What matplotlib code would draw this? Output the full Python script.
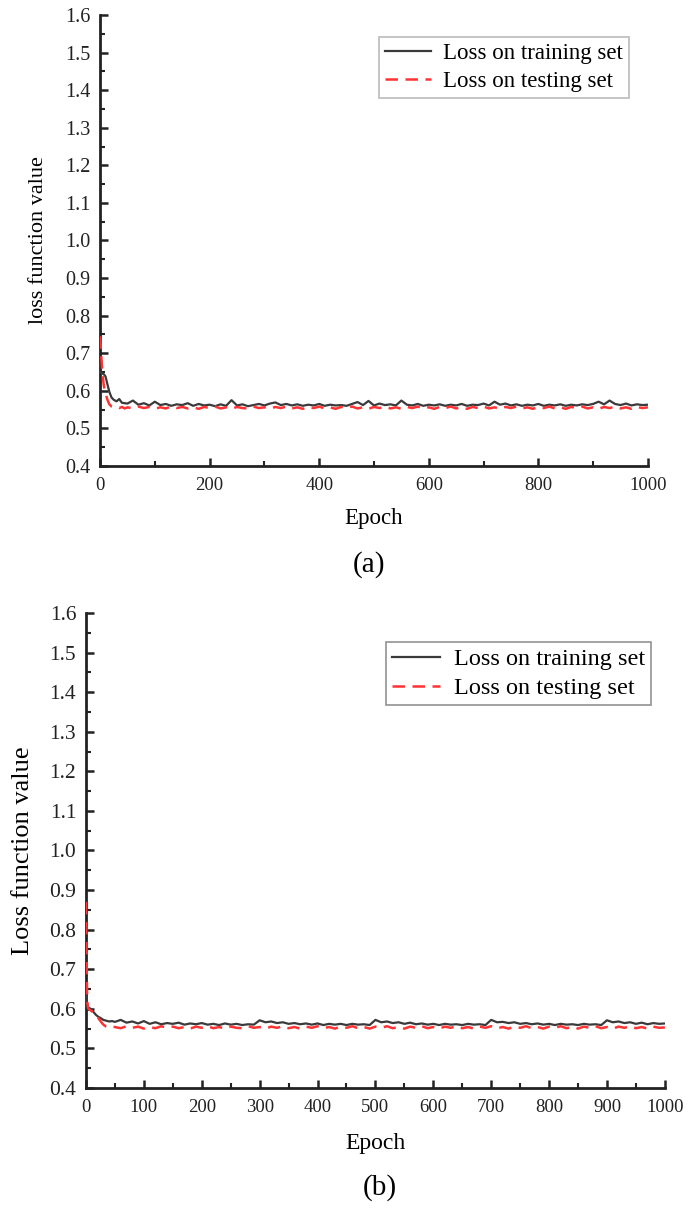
import matplotlib.pyplot as plt
from matplotlib.ticker import MultipleLocator

plt.rcParams['font.family'] = ['Liberation Serif', 'DejaVu Serif']

# epochs: dense at the start, then every 10
early = [0, 2, 4, 7, 10, 13, 17, 21, 25, 30, 35, 40, 45]
late = list(range(50, 1001, 10))
epochs = early + late

# ---- panel (a) ----
train_a_early = [0.650, 0.648, 0.646, 0.644, 0.638, 0.620, 0.597, 0.582, 0.576, 0.572, 0.578, 0.568, 0.567]
train_a_late = [0.566, 0.574, 0.563, 0.567, 0.561, 0.571, 0.562, 0.565, 0.560, 0.564,
                0.562, 0.567, 0.560, 0.565, 0.561, 0.563, 0.559, 0.564, 0.560, 0.575,
                0.561, 0.564, 0.559, 0.562, 0.565, 0.561, 0.566, 0.569, 0.562, 0.565,
                0.561, 0.564, 0.560, 0.563, 0.561, 0.565, 0.560, 0.563, 0.561, 0.562,
                0.560, 0.565, 0.570, 0.562, 0.573, 0.561, 0.566, 0.562, 0.564, 0.561,
                0.574, 0.563, 0.561, 0.565, 0.560, 0.563, 0.561, 0.564, 0.560, 0.563,
                0.561, 0.565, 0.560, 0.563, 0.562, 0.566, 0.561, 0.571, 0.563, 0.566,
                0.561, 0.564, 0.560, 0.563, 0.561, 0.565, 0.560, 0.563, 0.561, 0.564,
                0.560, 0.563, 0.561, 0.564, 0.562, 0.565, 0.571, 0.564, 0.574, 0.565,
                0.562, 0.566, 0.561, 0.564, 0.562, 0.563]
test_a_early = [0.745, 0.700, 0.650, 0.612, 0.596, 0.578, 0.564, 0.558, 0.556, 0.557, 0.554, 0.557, 0.553]
test_a_late = [0.556, 0.553, 0.558, 0.554, 0.557, 0.552, 0.556, 0.553, 0.558, 0.554,
               0.557, 0.553, 0.556, 0.552, 0.557, 0.554, 0.558, 0.553, 0.556, 0.552,
               0.557, 0.554, 0.553, 0.558, 0.554, 0.556, 0.552, 0.557, 0.554, 0.558,
               0.553, 0.556, 0.552, 0.557, 0.554, 0.558, 0.553, 0.556, 0.552, 0.557,
               0.554, 0.558, 0.553, 0.556, 0.552, 0.557, 0.554, 0.558, 0.553, 0.556,
               0.552, 0.557, 0.554, 0.558, 0.553, 0.556, 0.552, 0.557, 0.554, 0.558,
               0.553, 0.556, 0.552, 0.557, 0.554, 0.558, 0.553, 0.556, 0.552, 0.557,
               0.554, 0.558, 0.553, 0.556, 0.552, 0.557, 0.554, 0.558, 0.553, 0.556,
               0.552, 0.557, 0.554, 0.558, 0.553, 0.556, 0.552, 0.557, 0.554, 0.558,
               0.553, 0.556, 0.552, 0.557, 0.554, 0.556]

# ---- panel (b) ----
train_b_early = [0.665, 0.605, 0.603, 0.601, 0.598, 0.592, 0.585, 0.580, 0.577, 0.572, 0.570, 0.568, 0.569]
train_b_late = [0.567, 0.572, 0.565, 0.568, 0.563, 0.569, 0.562, 0.566, 0.561, 0.564,
                0.562, 0.565, 0.560, 0.563, 0.561, 0.564, 0.560, 0.562, 0.559, 0.563,
                0.560, 0.562, 0.559, 0.561, 0.560, 0.571, 0.566, 0.568, 0.564, 0.566,
                0.562, 0.564, 0.561, 0.563, 0.560, 0.563, 0.559, 0.562, 0.560, 0.562,
                0.559, 0.562, 0.560, 0.561, 0.559, 0.572, 0.566, 0.568, 0.564, 0.566,
                0.562, 0.565, 0.561, 0.563, 0.560, 0.562, 0.559, 0.562, 0.560, 0.561,
                0.559, 0.562, 0.560, 0.561, 0.559, 0.572, 0.566, 0.567, 0.564, 0.566,
                0.562, 0.564, 0.561, 0.563, 0.560, 0.562, 0.559, 0.562, 0.560, 0.561,
                0.559, 0.562, 0.560, 0.561, 0.559, 0.571, 0.566, 0.568, 0.564, 0.566,
                0.562, 0.565, 0.561, 0.564, 0.562, 0.563]
test_b_early = [0.870, 0.620, 0.600, 0.597, 0.594, 0.589, 0.583, 0.577, 0.569, 0.560, 0.555, 0.553, 0.555]
test_b_late = [0.554, 0.551, 0.556, 0.552, 0.555, 0.550, 0.554, 0.551, 0.556, 0.552,
               0.555, 0.551, 0.554, 0.550, 0.555, 0.552, 0.556, 0.551, 0.554, 0.550,
               0.555, 0.552, 0.551, 0.556, 0.552, 0.554, 0.550, 0.555, 0.552, 0.556,
               0.551, 0.554, 0.550, 0.555, 0.552, 0.556, 0.551, 0.554, 0.550, 0.555,
               0.552, 0.556, 0.551, 0.554, 0.550, 0.555, 0.552, 0.556, 0.551, 0.554,
               0.550, 0.555, 0.552, 0.556, 0.551, 0.554, 0.550, 0.555, 0.552, 0.556,
               0.551, 0.554, 0.550, 0.555, 0.552, 0.556, 0.551, 0.554, 0.550, 0.555,
               0.552, 0.556, 0.551, 0.554, 0.550, 0.555, 0.552, 0.556, 0.551, 0.554,
               0.550, 0.555, 0.552, 0.556, 0.551, 0.554, 0.550, 0.555, 0.552, 0.556,
               0.551, 0.554, 0.550, 0.555, 0.552, 0.553]

train_a = train_a_early + train_a_late
test_a = test_a_early + test_a_late
train_b = train_b_early + train_b_late
test_b = test_b_early + test_b_late

fig = plt.figure(figsize=(6.9, 12.09), dpi=100)


def style_axes(ax, xmajor, xminor, xfs, yfs):
    ax.set_xlim(0, 1000)
    ax.set_ylim(0.4, 1.6)
    ax.xaxis.set_major_locator(MultipleLocator(xmajor))
    ax.xaxis.set_minor_locator(MultipleLocator(xminor))
    ax.yaxis.set_major_locator(MultipleLocator(0.1))
    ax.yaxis.set_minor_locator(MultipleLocator(0.05))
    ax.yaxis.set_major_formatter(plt.FormatStrFormatter('%.1f'))
    for s in ['top', 'right']:
        ax.spines[s].set_visible(False)
    for s in ['left', 'bottom']:
        ax.spines[s].set_linewidth(2)
        ax.spines[s].set_color('#222222')
    ax.tick_params(which='major', direction='in', length=6, width=1.8, colors='#222222')
    ax.tick_params(which='minor', direction='in', length=3.5, width=1.5, colors='#222222')
    ax.tick_params(axis='x', which='major', labelsize=xfs, pad=8)
    ax.tick_params(axis='y', which='major', labelsize=yfs, pad=7)


# (a)
ax1 = fig.add_axes([0.145, 0.6146, 0.794, 0.373])
ax1.plot(epochs, train_a, color='#3a3a3a', lw=1.6, zorder=3, label='Loss on training set')
ax1.plot(epochs, test_a, color='#ff3333', lw=1.8, dashes=(5, 3), zorder=3,
         label='Loss on testing set')
style_axes(ax1, 200, 100, 13.5, 14.5)
ax1.set_xlabel('Epoch', fontsize=16.5, labelpad=10)
ax1.set_ylabel('loss function value', fontsize=16)
ax1.yaxis.set_label_coords(-0.095, 0.5)
leg = ax1.legend(loc='upper right', bbox_to_anchor=(0.965, 0.951), borderaxespad=0,
                 fontsize=16.5, fancybox=False, edgecolor='#aaaaaa', handlelength=2.0,
                 borderpad=0.25, labelspacing=0.3, handletextpad=0.55)
leg.get_frame().set_linewidth(1.2)
fig.text(369 / 690, 1 - 565 / 1209, '(a)', fontsize=21, ha='center', va='center')

# (b)
ax2 = fig.add_axes([0.1246, 0.1001, 0.839, 0.3929])
ax2.plot(epochs, train_b, color='#3a3a3a', lw=1.6, zorder=3, label='Loss on training set')
ax2.plot(epochs, test_b, color='#ff3333', lw=1.8, dashes=(5, 3), zorder=3,
         label='Loss on testing set')
style_axes(ax2, 100, 50, 13.5, 15.5)
ax2.set_xlabel('Epoch', fontsize=17, labelpad=12)
ax2.set_ylabel('Loss function value', fontsize=19)
ax2.yaxis.set_label_coords(-0.090, 0.5)
leg = ax2.legend(loc='upper right', bbox_to_anchor=(0.976, 0.939), borderaxespad=0,
                 fontsize=17.5, fancybox=False, edgecolor='#777777', handlelength=2.0,
                 borderpad=0.25, labelspacing=0.3, handletextpad=0.55)
leg.get_frame().set_linewidth(1.2)
fig.text(380 / 690, 1 - 1188 / 1209, '(b)', fontsize=21, ha='center', va='center')

fig.savefig('out.png', dpi=100)
